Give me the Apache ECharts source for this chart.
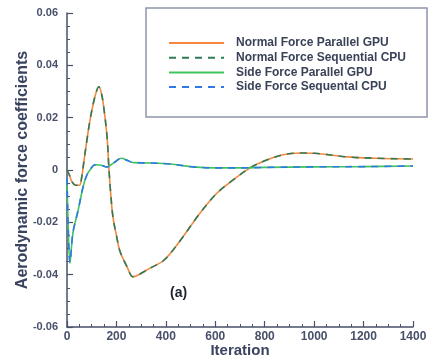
<!DOCTYPE html>
<html>
<head>
<meta charset="utf-8">
<script src="https://cdn.jsdelivr.net/npm/echarts@6/dist/echarts.min.js"></script>
<style>
  html, body { margin: 0; padding: 0; background: #fff; }
  #chart { width: 430px; height: 361px; }
</style>
</head>
<body>
<div id="chart"></div>
<script>
// values
const normalIter = [0, 10, 20, 35, 50, 60, 68, 80, 93, 113, 129, 140, 150, 162, 170, 176, 186, 200, 214, 243, 267, 290, 336, 392, 450, 538, 607, 672, 741, 800, 874, 943, 1000, 1133, 1250, 1400]
const normalForce = [0, -0.002, -0.0045, -0.0058, -0.0058, -0.0025, 0.003, 0.011, 0.019, 0.028, 0.0318, 0.029, 0.023, 0.0127, 0.0, -0.008, -0.018, -0.025, -0.031, -0.037, -0.0408, -0.040, -0.0375, -0.0345, -0.028, -0.0165, -0.0088, -0.0038, 0.0008, 0.0035, 0.0058, 0.0065, 0.0064, 0.005, 0.0045, 0.0042]

const sideIter = [0, 5, 12, 24, 45, 65, 80, 93, 113, 134, 162, 190, 220, 245, 270, 336, 417, 510, 600, 700, 800, 1000, 1200, 1400]
const sideForce = [-0.003, -0.022, -0.0354, -0.024, -0.0154, -0.0065, -0.002, 0.0, 0.002, 0.0019, 0.0012, 0.0028, 0.0045, 0.0036, 0.0028, 0.0027, 0.0023, 0.0012, 0.0008, 0.0008, 0.001, 0.0012, 0.0013, 0.0015]

const seriesNames = [
  'Normal Force Parallel GPU',
  'Normal Force Sequential CPU',
  'Side Force Parallel GPU',
  'Side Force Sequental CPU',
]
const yTicks = [-0.06, -0.04, -0.02, 0, 0.02, 0.04, 0.06]
const xTicks = [0, 200, 400, 600, 800, 1000, 1200, 1400]

const zip = (xs, ys) => xs.map((x, i) => [x, ys[i]])
const ink = '#48506a'

const chart = echarts.init(document.getElementById('chart'), null, { renderer: 'canvas' })

const axisCommon = {
  nameMoveOverlap: false,
  axisLine: { onZero: false, lineStyle: { color: ink, width: 1.5 } },
  axisTick: { inside: true, length: 6, lineStyle: { color: ink, width: 1.2 } },
  minorTick: { show: true, splitNumber: 4, length: 3, lineStyle: { color: ink, width: 1 } },
  splitLine: { show: false },
  nameTextStyle: { color: '#3a4460', fontFamily: 'Liberation Sans', fontWeight: 'bold', fontSize: 15 },
}

const lineSeries = (name, data, color, dashed) => ({
  name,
  type: 'line',
  data,
  smooth: 0.35,
  symbol: 'none',
  showSymbol: false,
  lineStyle: { color, width: 1.6, type: dashed ? [7, 6] : 'solid' },
  itemStyle: { color },
})

chart.setOption({
  animation: false,
  backgroundColor: '#fff',
  grid: { left: 67, right: 17, top: 13, bottom: 34, outerBoundsMode: 'none' },
  xAxis: {
    type: 'value',
    min: xTicks[0],
    max: xTicks[xTicks.length - 1],
    interval: 200,
    name: 'Iteration',
    nameLocation: 'middle',
    nameGap: 16,
    ...axisCommon,
    axisLabel: {
      margin: 4,
      color: ink,
      fontFamily: 'Liberation Sans',
      fontWeight: 'bold',
      fontSize: 12,
      formatter: v => String(v),
    },
  },
  yAxis: {
    type: 'value',
    min: yTicks[0],
    max: yTicks[yTicks.length - 1],
    interval: 0.02,
    name: 'Aerodynamic force coefficients',
    nameLocation: 'middle',
    nameGap: 36,
    ...axisCommon,
    nameTextStyle: { ...axisCommon.nameTextStyle, fontSize: 16 },
    axisLabel: {
      margin: 9,
      color: ink,
      fontFamily: 'Liberation Sans',
      fontWeight: 'bold',
      fontSize: 11,
      formatter: v => {
        const r = Math.round(v * 100) / 100
        return r === 0 ? '0' : r.toFixed(2)
      },
    },
  },
  legend: {
    orient: 'vertical',
    left: 163,
    top: 32,
    itemWidth: 55,
    itemHeight: 12,
    itemGap: 2.7,
    itemStyle: { opacity: 0 },
    textStyle: {
      color: '#3a4258',
      fontFamily: 'Liberation Sans',
      fontWeight: 'bold',
      fontSize: 12,
      padding: [0, 0, 0, 7],
    },
    data: seriesNames,
  },
  series: [
    lineSeries(seriesNames[0], zip(normalIter, normalForce), '#f5883e', false),
    lineSeries(seriesNames[1], zip(normalIter, normalForce), '#2f7a57', true),
    lineSeries(seriesNames[2], zip(sideIter, sideForce), '#3fc35e', false),
    lineSeries(seriesNames[3], zip(sideIter, sideForce), '#2f78e6', true),
  ],
  graphic: [
    {
      type: 'rect',
      shape: { x: 146, y: 8, width: 281, height: 109 },
      style: { fill: 'none', stroke: '#8f95ab', lineWidth: 1.5 },
      z: 10,
    },
    {
      type: 'text',
      x: 170,
      y: 286,
      style: {
        text: '(a)',
        fill: '#1e2230',
        font: 'bold 14px "Liberation Sans"',
      },
    },
  ],
})
</script>
</body>
</html>
